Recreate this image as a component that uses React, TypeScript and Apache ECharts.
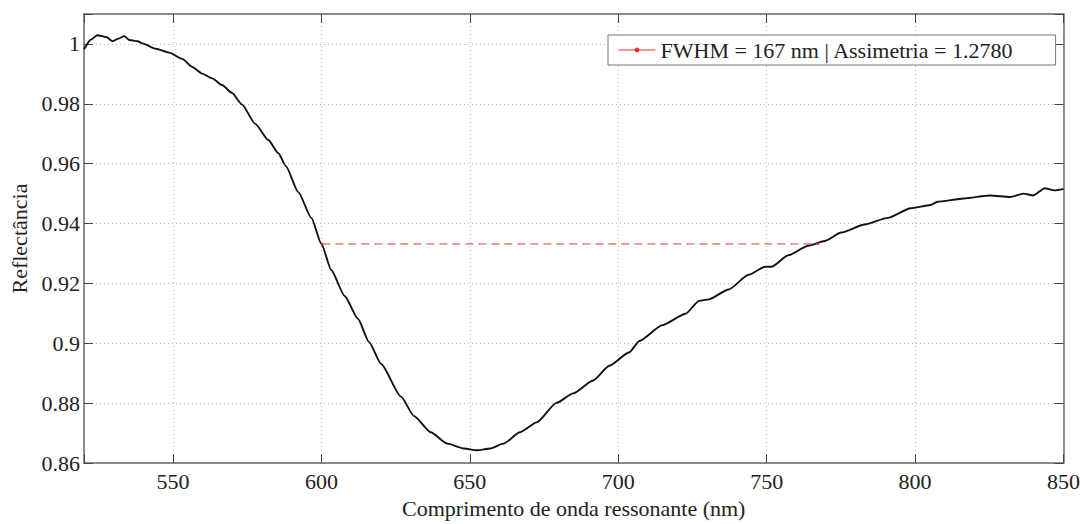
import React, { useEffect, useRef } from "react";
import * as echarts from "echarts";

const wavelength = [520, 522.4, 524.5, 527.5, 529.7, 531.4, 533.6, 535.3, 538.1, 539.7, 544.2, 548.7, 553.1, 556.5, 559.8, 563.2, 566.5, 569.9, 573.2, 577.7, 582.1, 585.5, 588, 592.2, 596.6, 600, 603.3, 607.8, 612.3, 616, 620.1, 626.8, 631.2, 636.8, 642.4, 648, 652.4, 656.9, 661.3, 666.9, 672.5, 679.2, 684.8, 691.5, 697, 703.7, 707.1, 714.9, 722.7, 727.2, 730.5, 737.2, 743.9, 749.5, 751.7, 757.3, 764, 769.6, 775.1, 783, 790.8, 798.5, 805.2, 807.5, 816.4, 825.3, 832, 836.5, 839.8, 843.7, 847, 850];
const reflectance = [0.9982, 1.0015, 1.0029, 1.0023, 1.0009, 1.0017, 1.0026, 1.0013, 1.0009, 1.0002, 0.9984, 0.9971, 0.995, 0.9923, 0.9901, 0.9885, 0.9863, 0.9836, 0.9798, 0.9733, 0.9679, 0.9635, 0.9592, 0.9505, 0.9419, 0.9332, 0.9245, 0.9158, 0.9082, 0.9005, 0.8931, 0.8822, 0.8757, 0.8703, 0.8665, 0.8649, 0.8643, 0.8649, 0.8665, 0.8703, 0.8736, 0.8801, 0.8833, 0.8876, 0.8925, 0.897, 0.9008, 0.9061, 0.9099, 0.9142, 0.9147, 0.918, 0.9229, 0.9256, 0.9256, 0.9294, 0.9326, 0.9342, 0.937, 0.9397, 0.9419, 0.9451, 0.9462, 0.9473, 0.9484, 0.9494, 0.9489, 0.95, 0.9494, 0.9518, 0.9511, 0.9516];
const fwhmX = [600.3, 767.3];
const fwhmY = [0.9332, 0.9332];
const legendLabel = "FWHM = 167 nm | Assimetria = 1.2780";
const xTitle = "Comprimento de onda ressonante (nm)";
const yTitle = "Reflectância";

const FONT = "'Liberation Serif', 'Times New Roman', serif";

export default function App() {
  const ref = useRef<HTMLDivElement>(null);
  useEffect(() => {
    if (!ref.current) return;
    const chart = echarts.init(ref.current, undefined, { renderer: "svg" });
    const curve = wavelength.map((x, i) => [x, reflectance[i]]);
    const fwhm = fwhmX.map((x, i) => [x, fwhmY[i]]);
    const gridLine = { show: true, lineStyle: { color: "#b8b8b8", type: [1, 3] as any, width: 1 } };
    const axisLine = { show: true, lineStyle: { color: "#6a6a6a", width: 1.5 } };
    const tick = { show: true, inside: true, length: 9, lineStyle: { color: "#444", width: 1 } };
    const xCommon = {
      type: "value",
      min: 520,
      max: 850,
      minInterval: 50,
      maxInterval: 50,
    };
    const yCommon = {
      type: "value",
      min: 0.86,
      max: 1.01,
      interval: 0.02,
    };
    chart.setOption({
      animation: false,
      backgroundColor: "#fff",
      grid: { left: 81, right: 16, top: 14, bottom: 49, containLabel: false },
      legend: {
        show: true,
        left: 608,
        top: 35,
        orient: "horizontal",
        padding: [4, 42, 4, 10],
        backgroundColor: "#fff",
        borderColor: "#777",
        borderWidth: 1,
        borderRadius: 0,
        itemWidth: 37,
        itemHeight: 6,
        lineStyle: { type: "solid", width: 1, color: "#e83030" },
        textStyle: { fontFamily: FONT, fontSize: 22, color: "#222" },
        data: [{ name: legendLabel }],
      },
      xAxis: [
        {
          ...xCommon,
          position: "bottom",
          name: xTitle,
          nameLocation: "middle",
          nameGap: 26,
          nameTextStyle: { fontFamily: FONT, fontSize: 22, color: "#222" },
          axisLine,
          axisTick: tick,
          splitLine: gridLine,
          axisLabel: {
            show: true,
            margin: 7,
            fontFamily: FONT,
            fontSize: 22,
            color: "#222",
            formatter: (v: number) => (Math.abs(v % 50) < 1e-6 ? String(Math.round(v)) : ""),
          },
        },
        {
          ...xCommon,
          position: "top",
          axisLine,
          axisTick: tick,
          splitLine: { show: false },
          axisLabel: { show: false },
        },
      ],
      yAxis: [
        {
          ...yCommon,
          position: "left",
          name: yTitle,
          nameLocation: "middle",
          nameGap: 54,
          nameTextStyle: { fontFamily: FONT, fontSize: 22, color: "#222" },
          axisLine,
          axisTick: tick,
          splitLine: gridLine,
          axisLabel: {
            show: true,
            margin: 4,
            fontFamily: FONT,
            fontSize: 22,
            color: "#222",
            formatter: (v: number) => {
              const r = Math.round(v * 100) / 100;
              if (Math.abs(r - 1.01) < 1e-6) return "";
              return String(r);
            },
          },
        },
        {
          ...yCommon,
          position: "right",
          axisLine,
          axisTick: tick,
          splitLine: { show: false },
          axisLabel: { show: false },
        },
      ],
      series: [
        {
          type: "line",
          name: "curve",
          data: curve,
          showSymbol: false,
          symbol: "none",
          smooth: 0.2,
          smoothMonotone: "x",
          lineStyle: { color: "#111", width: 1.9 },
          z: 3,
        },
        {
          type: "line",
          name: legendLabel,
          data: fwhm,
          symbol: "circle",
          symbolSize: 2,
          showSymbol: true,
          itemStyle: { color: "#e83030" },
          lineStyle: { color: "#e83030", width: 1, type: [8, 5] },
          z: 4,
        },
      ],
    });
    return () => chart.dispose();
  }, []);
  return <div ref={ref} style={{ width: 1083, height: 524, position: "absolute", left: 0, top: 0 }} />;
}
